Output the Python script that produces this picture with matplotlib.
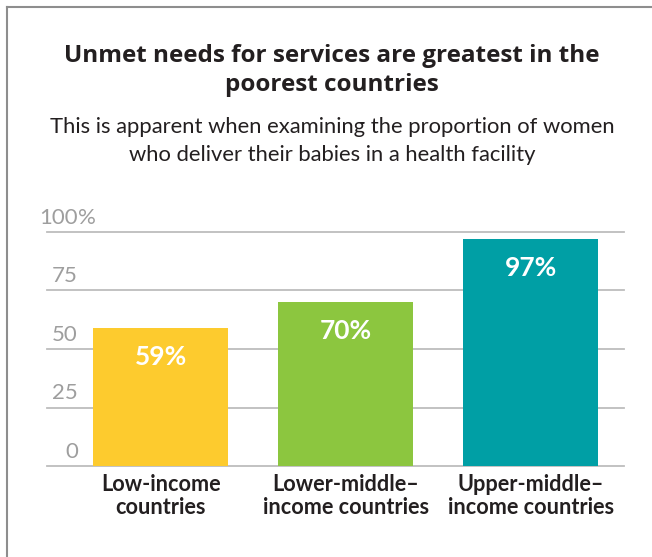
import matplotlib
matplotlib.use("Agg")
import matplotlib.pyplot as plt
from matplotlib.lines import Line2D
from matplotlib.transforms import blended_transform_factory, offset_copy

# Data
categories = ["Low-income\ncountries", "Lower-middle–\nincome countries", "Upper-middle–\nincome countries"]
values = [59, 70, 97]
value_labels = ["59%", "70%", "97%"]
bar_colors = ["#FDCB2E", "#8CC63F", "#009FA5"]
y_ticks = [0, 25, 50, 75, 100]
y_tick_text = ["0", "25", "50", "75", "100"]
y_tick_suffix = ["", "", "", "", "%"]

title_lines = ["Unmet needs for services are greatest in the", "poorest countries"]
subtitle_lines = ["This is apparent when examining the proportion of women",
                  "who deliver their babies in a health facility"]

W, H = 652, 557
DARK = "#231F20"
GRID = "#BDBDBD"
TICK = "#9E9E9E"

plt.rcParams["font.family"] = ["Lato", "DejaVu Sans"]

fig = plt.figure(figsize=(W / 100, H / 100), dpi=100)

# outer frame: left and top rules
fig.add_artist(Line2D([6.5 / W, 6.5 / W], [0, 1 - 7 / H], transform=fig.transFigure,
                      color="#8E8E8E", lw=1.5))
fig.add_artist(Line2D([6.5 / W, 1], [1 - 7 / H, 1 - 7 / H], transform=fig.transFigure,
                      color="#8E8E8E", lw=1.5))

# title and subtitle
cx = 332 / W
for line, base in zip(title_lines, [62, 91]):
    fig.text(cx, 1 - base / H, line, ha="center", va="baseline", fontsize=17.5,
             fontweight="bold", color=DARK, family=["Open Sans", "DejaVu Sans"])
for line, base in zip(subtitle_lines, [133, 161]):
    fig.text(cx, 1 - base / H, line, ha="center", va="baseline", fontsize=15.8,
             fontweight="normal", color=DARK)

ax = fig.add_axes([47 / W, (H - 466) / H, 577 / W, 234 / H])
x = list(range(len(values)))
ax.bar(x, values, width=0.73, color=bar_colors, zorder=3)
ax.set_xlim(-0.614, 2.505)
ax.set_ylim(0, 100)

for s in ax.spines.values():
    s.set_visible(False)
ax.set_yticks(y_ticks)
ax.set_yticklabels([])
ax.tick_params(axis="y", length=0)
ax.yaxis.grid(True, color=GRID, lw=1.3, zorder=1)
for gl in ax.get_ygridlines():
    gl.set_clip_on(False)

ax.set_xticks(x)
ax.set_xticklabels(categories, fontsize=15.6, fontweight="bold", color=DARK, linespacing=1.1)
ax.tick_params(axis="x", length=0, pad=6)

# y tick labels sit above their gridlines, right-aligned
trans = blended_transform_factory(fig.transFigure, ax.transData)
trans = offset_copy(trans, fig=fig, y=6, units="points")
for val, txt, suf in zip(y_ticks, y_tick_text, y_tick_suffix):
    ax.text(78 / W, val, txt, transform=trans, ha="right", va="baseline",
            fontsize=16, fontweight="normal", color=TICK)
    if suf:
        ax.text(78 / W, val, suf, transform=trans, ha="left", va="baseline",
                fontsize=16, fontweight="normal", color=TICK)

# value labels inside the bars
for xi, v, lab in zip(x, values, value_labels):
    ax.annotate(lab, (xi, v), xytext=(0, -21), textcoords="offset points",
                ha="center", va="center", fontsize=19, fontweight="bold",
                color="white", zorder=4)

fig.savefig("out.png", dpi=100)
